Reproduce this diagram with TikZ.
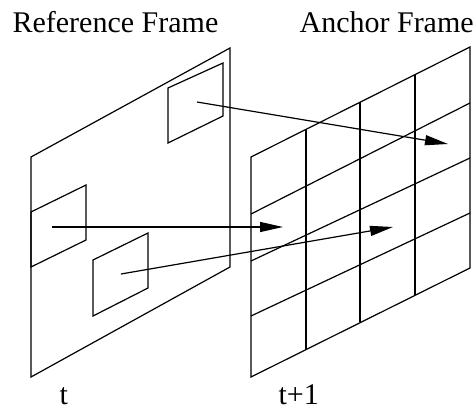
\documentclass[tikz,border=0pt]{standalone}
\usepackage{fontspec}
\setmainfont{Liberation Serif}
\usetikzlibrary{arrows.meta}

\begin{document}
\begin{tikzpicture}[x=1pt, y=-1pt, line width=1.2pt,
  motion/.style={-{Triangle[length=23pt, width=10pt]}, line width=1.2pt},
  lbl/.style={anchor=base west, inner sep=0pt, font=\fontsize{30}{36}\selectfont}]

\useasboundingbox (0,0) rectangle (475,412);

% Titles
\node[lbl] (ref_title) at (12,33) {Reference Frame};
\node[lbl] (anc_title) at (299,33) {Anchor Frame};
\node[lbl] (t_ref) at (59,404) {t};
\node[lbl] (t_anc) at (278,404) {t+1};

% Reference Frame
\draw (31,157) coordinate (ref_tl) -- (230,48) coordinate (ref_tr)
  -- (230,267) coordinate (ref_br) -- (31,377) coordinate (ref_bl) -- cycle;

% Blocks in Reference Frame
\draw (31,212) -- (86,185) -- (86,240) -- (31,267) -- cycle;
\draw (93,260) -- (148,233) -- (148,288) -- (93,316) -- cycle;
\draw (168,88) -- (223,63) -- (223,116) -- (168,143) -- cycle;

% Anchor Frame
\draw (251,157) coordinate (anc_tl) -- (470,47) coordinate (anc_tr)
  -- (470,268) coordinate (anc_br) -- (251,377) coordinate (anc_bl) -- cycle;

% Grid of Anchor Frame
\foreach \x/\t/\b in {306/130/349, 360/102/322, 415/75/295}
  \draw (\x,\t) -- (\x,\b);
\foreach \l/\r in {214/103, 261/158, 316/213}
  \draw (251,\l) -- (470,\r);

% Motion vectors
\coordinate (blk_top) at (197,102);
\coordinate (blk_left) at (52,227);
\coordinate (blk_mid) at (121,274);
\coordinate (cell_top) at (448,144);
\coordinate (cell_left) at (283,227);
\coordinate (cell_mid) at (393,227);

\draw[motion] (blk_top) -- (cell_top);
\draw[motion] (blk_left) -- (cell_left);
\draw[motion] (blk_mid) -- (cell_mid);

\end{tikzpicture}
\end{document}
